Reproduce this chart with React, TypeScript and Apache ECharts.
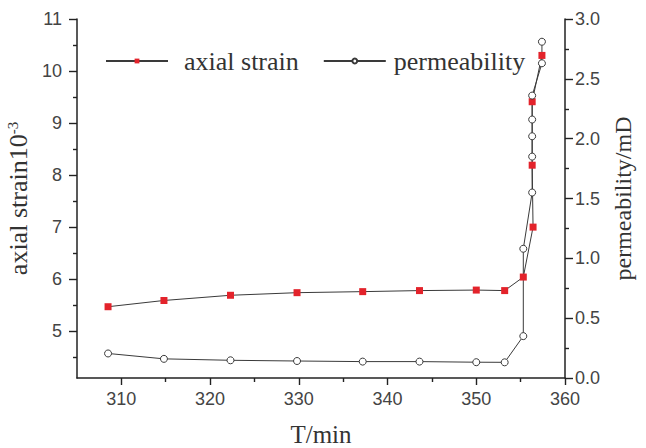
import React, { useEffect, useRef } from "react";
import * as echarts from "echarts";

// Axial strain (10^-3) against time (min)
const strainTime = [308.5, 314.8, 322.3, 329.8, 337.2, 343.6, 350.0, 353.2, 355.3, 356.4, 356.3, 356.3, 357.4];
const strainValues = [5.47, 5.59, 5.69, 5.74, 5.76, 5.78, 5.79, 5.78, 6.04, 7.0, 8.19, 9.41, 10.3];

// Permeability (mD) against time (min)
const permTime = [308.5, 314.8, 322.3, 329.8, 337.2, 343.6, 350.0, 353.2, 355.3, 355.3, 356.3, 356.3, 356.3, 356.3, 356.3, 357.4, 357.4];
const permValues = [0.205, 0.16, 0.148, 0.142, 0.137, 0.137, 0.132, 0.131, 0.35, 1.08, 1.55, 1.85, 2.02, 2.16, 2.36, 2.63, 2.81];

// Tick positions
const timeTicks = [310, 320, 330, 340, 350, 360];
const timeMinorTicks = [315, 325, 335, 345, 355];
const strainTicks = [5, 6, 7, 8, 9, 10, 11];
const strainMinorTicks = [4.5, 5.5, 6.5, 7.5, 8.5, 9.5, 10.5];

const SERIF = "Liberation Serif";
const SANS = "Liberation Sans";
const AXIS_COLOR = "#222";
const LABEL_COLOR = "#444";

export default function App() {
  const ref = useRef<HTMLDivElement>(null);

  useEffect(() => {
    const chart = echarts.init(ref.current!, null, { renderer: "svg" });

    const axisLine = { show: true, onZero: false, lineStyle: { color: AXIS_COLOR, width: 1.5 } };
    const tickStyle = { color: AXIS_COLOR, width: 1.4 };
    const tickLabel = { fontFamily: SANS, fontSize: 18, color: LABEL_COLOR };

    chart.setOption({
      animation: false,
      backgroundColor: "#fff",
      grid: { left: 77, right: 81, top: 19, bottom: 70, containLabel: false, outerBoundsMode: "none" },
      legend: {
        left: 100,
        top: 43,
        itemWidth: 62,
        itemHeight: 6,
        itemGap: 24,
        textStyle: { fontFamily: SERIF, fontSize: 26, color: "#333" },
        data: [
          { name: "axial strain", textStyle: { padding: [0, 0, 0, 11] } },
          { name: "permeability", textStyle: { padding: [0, 0, 0, 3] } },
        ],
      },
      xAxis: [
        {
          type: "value",
          min: 305,
          max: 360,
          position: "bottom",
          name: "T/min",
          nameLocation: "middle",
          nameGap: 44,
          nameTextStyle: { fontFamily: SERIF, fontSize: 25, color: "#333" },
          axisLine,
          axisTick: { show: true, inside: false, customValues: timeTicks, length: 7, lineStyle: tickStyle },
          axisLabel: { ...tickLabel, customValues: timeTicks, margin: 12 },
          splitLine: { show: false },
        },
        {
          // minor ticks between the labelled times
          type: "value",
          min: 305,
          max: 360,
          position: "bottom",
          axisLine: { show: false, onZero: false },
          axisTick: { show: true, inside: false, customValues: timeMinorTicks, length: 4, lineStyle: tickStyle },
          axisLabel: { show: false },
          splitLine: { show: false },
        },
      ],
      yAxis: [
        {
          type: "value",
          min: 4.1,
          max: 11,
          position: "left",
          name: "axial strain10{sup|-3}",
          nameLocation: "middle",
          nameRotate: 90,
          nameGap: 38,
          nameTextStyle: {
            fontFamily: SERIF,
            fontSize: 26,
            color: "#333",
            rich: { sup: { fontFamily: SERIF, fontSize: 15, color: "#333", verticalAlign: "top" } },
          },
          axisLine,
          axisTick: { show: true, inside: false, customValues: strainTicks, length: 8, lineStyle: tickStyle },
          axisLabel: { ...tickLabel, customValues: strainTicks, margin: 15 },
          splitLine: { show: false },
        },
        {
          type: "value",
          min: 0,
          max: 3,
          interval: 0.5,
          position: "right",
          name: "permeability/mD",
          nameLocation: "middle",
          nameRotate: 90,
          nameGap: 40,
          nameTextStyle: { fontFamily: SERIF, fontSize: 24, color: "#333" },
          axisLine,
          axisTick: { show: true, inside: false, length: 8, lineStyle: tickStyle },
          minorTick: { show: true, splitNumber: 2, length: 4, lineStyle: tickStyle },
          axisLabel: { ...tickLabel, margin: 10, formatter: (v: number) => v.toFixed(1) },
          splitLine: { show: false },
          minorSplitLine: { show: false },
        },
        {
          // minor ticks on the strain axis
          type: "value",
          min: 4.1,
          max: 11,
          position: "left",
          axisLine: { show: false, onZero: false },
          axisTick: { show: true, inside: false, customValues: strainMinorTicks, length: 4, lineStyle: tickStyle },
          axisLabel: { show: false },
          splitLine: { show: false },
        },
      ],
      series: [
        {
          type: "line",
          name: "axial strain",
          xAxisIndex: 0,
          yAxisIndex: 0,
          data: strainTime.map((t, i) => [t, strainValues[i]]),
          symbol: "rect",
          symbolSize: 7,
          lineStyle: { color: "#3a3a3a", width: 1 },
          itemStyle: { color: "#e3232b", borderWidth: 0 },
        },
        {
          type: "line",
          name: "permeability",
          xAxisIndex: 0,
          yAxisIndex: 1,
          data: permTime.map((t, i) => [t, permValues[i]]),
          symbol: "circle",
          symbolSize: 7,
          lineStyle: { color: "#3a3a3a", width: 1 },
          itemStyle: { color: "#fff", borderColor: "#3a3a3a", borderWidth: 1 },
        },
      ],
    });

    return () => chart.dispose();
  }, []);

  return (
    <div
      ref={ref}
      style={{ position: "fixed", left: 0, top: 0, width: 646, height: 448, background: "#fff" }}
    />
  );
}
